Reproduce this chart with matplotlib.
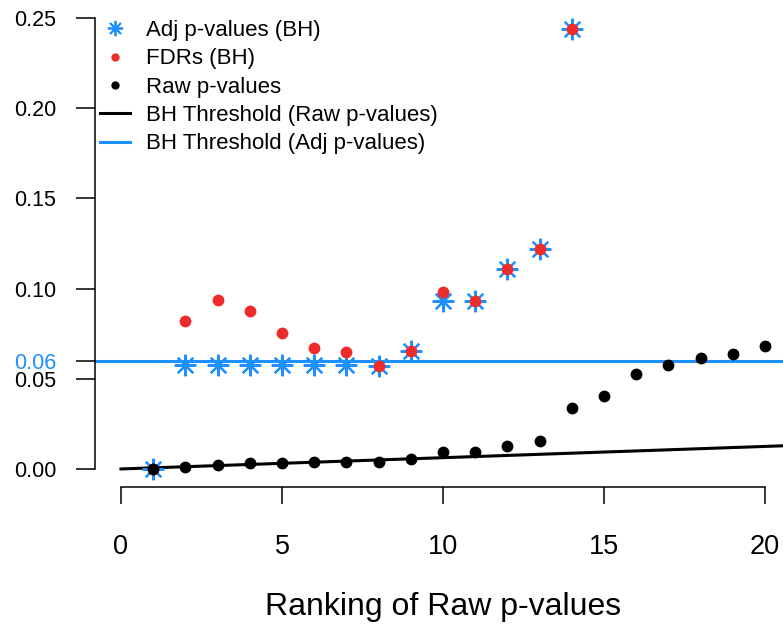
import matplotlib
matplotlib.use('Agg')
import matplotlib.pyplot as plt
from matplotlib.lines import Line2D

plt.rcParams['font.family'] = ['Liberation Sans', 'DejaVu Sans']

# raw p-values sorted by rank
ranks = list(range(1, 21))
raw_p = [0.0000, 0.0011, 0.0022, 0.0033, 0.0035, 0.0039, 0.0040, 0.0041,
         0.0054, 0.0094, 0.0096, 0.0127, 0.0155, 0.0336, 0.0406, 0.0527,
         0.0576, 0.0617, 0.0639, 0.0683]

# BH results for the first 14 ranks
adj_ranks = list(range(1, 15))
adj_p = [0.0002, 0.0576, 0.0576, 0.0576, 0.0576, 0.0576, 0.0576, 0.0571,
         0.0656, 0.0931, 0.0931, 0.1107, 0.1221, 0.2437]
fdr = [0.0001, 0.0822, 0.0937, 0.0878, 0.0752, 0.0673, 0.0650, 0.0571,
       0.0656, 0.0983, 0.0931, 0.1107, 0.1221, 0.2437]

# BH threshold line for the raw p-values
thr_x = [0, 20.8]
thr_y = [0, 0.0130]
adj_cutoff = 0.06

yticks = [0.00, 0.05, 0.06, 0.10, 0.15, 0.20, 0.25]
ytick_labels = ['0.00', '0.05', '0.06', '0.10', '0.15', '0.20', '0.25']
xticks = [0, 5, 10, 15, 20]

blue = '#1E90FF'
red = '#EE2C2C'

fig = plt.figure(figsize=(7.83, 6.24), dpi=100)
ax = fig.add_axes([95.2 / 783, 1 - 487 / 624, 695.6 / 783, 487 / 624])
ax.set_xlim(-0.8, 20.8)
ax.set_ylim(-0.01, 0.26)

ax.axhline(adj_cutoff, color=blue, lw=2.2, zorder=1)
ax.plot(thr_x, thr_y, color='black', lw=2.2, zorder=2)
ax.plot(adj_ranks, adj_p, linestyle='none', marker=(8, 2, 0), ms=15.5,
        mew=1.6, color=blue, zorder=3)
ax.plot(adj_ranks, fdr, linestyle='none', marker='o', ms=8.5, mew=0,
        color=red, zorder=4)
ax.plot(ranks, raw_p, linestyle='none', marker='o', ms=8.5, mew=0,
        color='black', zorder=5)

for side in ['top', 'right']:
    ax.spines[side].set_visible(False)
ax.spines['left'].set_bounds(0, 0.25)
ax.spines['bottom'].set_bounds(0, 20)
for side in ['left', 'bottom']:
    ax.spines[side].set_linewidth(1.1)

ax.set_yticks(yticks)
ax.set_yticklabels(ytick_labels)
ax.set_xticks(xticks)
ax.tick_params(axis='y', direction='out', length=14, width=1.1,
               pad=14, labelsize=15.5)
ax.tick_params(axis='x', direction='out', length=12, width=1.1,
               pad=22, labelsize=19.5)
for lab in ax.get_yticklabels():
    if lab.get_text() == '0.06':
        lab.set_color(blue)

ax.set_xlabel('Ranking of Raw p-values', fontsize=23, labelpad=23)

handles = [
    Line2D([], [], linestyle='none', marker=(8, 2, 0), ms=11, mew=1.3,
           color=blue),
    Line2D([], [], linestyle='none', marker='o', ms=6, mew=0, color=red),
    Line2D([], [], linestyle='none', marker='o', ms=6, mew=0, color='black'),
    Line2D([], [], color='black', lw=2.2),
    Line2D([], [], color=blue, lw=2.2),
]
labels = ['Adj p-values (BH)', 'FDRs (BH)', 'Raw p-values',
          'BH Threshold (Raw p-values)', 'BH Threshold (Adj p-values)']
fig.legend(handles, labels, loc='upper left',
           bbox_to_anchor=(100 / 783, 1 - 20 / 624), frameon=False,
           fontsize=16, handlelength=1.35, handletextpad=0.7,
           labelspacing=0.33, borderpad=0, borderaxespad=0)

fig.savefig('out.png', dpi=100)
